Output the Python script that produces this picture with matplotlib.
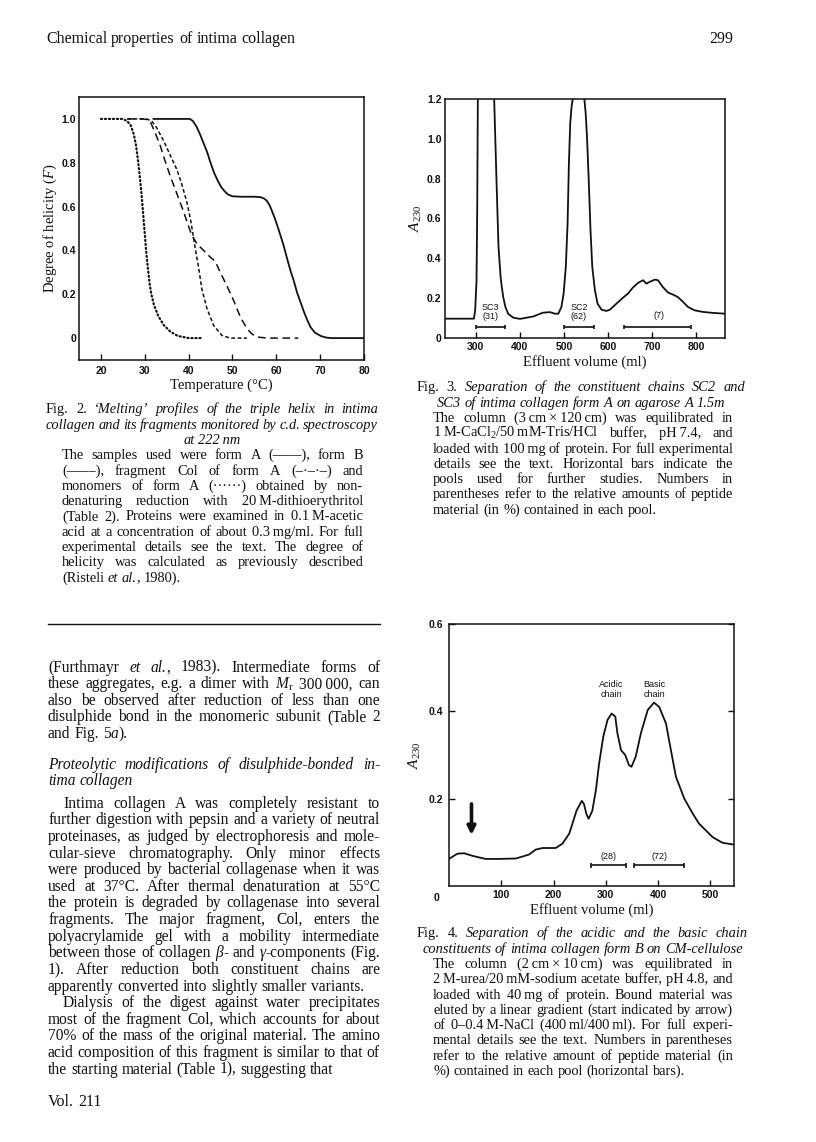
import re
import matplotlib
matplotlib.use('Agg')
import matplotlib.pyplot as plt

plt.rcParams['font.family'] = ['Liberation Serif', 'DejaVu Serif']
plt.rcParams['mathtext.fontset'] = 'custom'
plt.rcParams['mathtext.rm'] = 'Liberation Serif'
plt.rcParams['mathtext.it'] = 'Liberation Serif:italic'
plt.rcParams['mathtext.bf'] = 'Liberation Serif:bold'

# ---------------- data ----------------
# Fig. 2  degree of helicity (F) vs temperature (deg C)
t_formA = [32, 40.3, 41.0, 41.8, 42.6, 43.4, 44.2, 45.0, 45.8, 46.6, 47.4, 48.2, 49.0, 50.0, 52, 55,
           56.4, 57.2, 57.9, 58.5, 59.0, 59.6, 60.2, 61.0, 61.7, 62.5, 63.2, 64.0, 64.7, 65.5, 66.3,
           67.0, 67.8, 68.8, 70.1, 71.2, 72.4, 80]
f_formA = [1.0, 1.0, 0.99, 0.965, 0.93, 0.89, 0.85, 0.80, 0.755, 0.72, 0.69, 0.67, 0.655, 0.647, 0.645, 0.645,
           0.643, 0.637, 0.625, 0.605, 0.58, 0.55, 0.515, 0.465, 0.42, 0.36, 0.31, 0.26, 0.21, 0.165, 0.12,
           0.085, 0.05, 0.025, 0.01, 0.003, 0.0, 0.0]
t_formB = [26, 29.5, 30.5, 31.2, 32.3, 33.5, 34.6, 35.8, 37.3, 38.8, 39.9, 40.7, 41.9, 43.4, 44.9, 46.1,
           47.2, 48.7, 50.3, 51.8, 53.3, 54.5, 55.6, 57.9, 65]
f_formB = [1.0, 1.0, 0.997, 0.99, 0.94, 0.88, 0.81, 0.74, 0.66, 0.58, 0.515, 0.47, 0.43, 0.40, 0.37, 0.35,
           0.30, 0.24, 0.17, 0.096, 0.043, 0.018, 0.005, 0.0, 0.0]
t_col = [26, 30.4, 31.6, 32.7, 34.3, 35.8, 37.3, 38.4, 39.6, 40.4, 40.9, 41.5, 42.3, 43.0, 44.2, 45.7,
         47.6, 49.5, 53.3]
f_col = [1.0, 1.0, 0.99, 0.96, 0.90, 0.835, 0.77, 0.705, 0.62, 0.545, 0.485, 0.41, 0.32, 0.225, 0.134, 0.058,
         0.012, 0.0, 0.0]
t_mono = [20, 25, 26.0, 26.8, 27.5, 28.0, 28.4, 28.8, 29.2, 29.5, 29.9, 30.3, 30.7, 31.1, 31.5, 32.1,
          33.1, 34.3, 35.8, 37.5, 40, 43]
f_mono = [1.0, 1.0, 0.99, 0.97, 0.93, 0.88, 0.82, 0.75, 0.67, 0.60, 0.50, 0.40, 0.32, 0.25, 0.20, 0.15,
          0.10, 0.06, 0.03, 0.01, 0.0, 0.0]

# Fig. 3  A230 vs effluent volume (ml), agarose A 1.5m
v_fig3 = [230, 295.5, 298.5, 301.5, 303, 304.5, 306, 338, 341.5, 346.8, 351.3, 356, 358, 362, 367, 373,
          385, 400, 430, 452, 468, 479, 487, 494, 499, 504, 508, 511, 514, 517, 521, 524, 543, 546, 549,
          552, 556, 560, 564, 570, 576, 585, 596, 604, 619, 634, 645, 656, 668, 679, 687, 694, 706, 713,
          724, 736, 747, 758, 770, 781, 796, 815, 838, 865]
a_fig3 = [0.097, 0.097, 0.14, 0.29, 0.625, 1.2, 1.35, 1.35, 1.2, 0.79, 0.46, 0.31, 0.27, 0.206, 0.156, 0.122,
          0.102, 0.096, 0.108, 0.127, 0.13, 0.122, 0.122, 0.156, 0.223, 0.357, 0.575, 0.876, 1.078, 1.16,
          1.22, 1.25, 1.25, 1.2, 1.13, 1.01, 0.79, 0.54, 0.357, 0.24, 0.172, 0.142, 0.136, 0.142, 0.173,
          0.203, 0.223, 0.253, 0.277, 0.29, 0.273, 0.282, 0.293, 0.29, 0.256, 0.228, 0.218, 0.206, 0.181,
          0.156, 0.139, 0.131, 0.126, 0.122]
pool3_start = [300, 500, 637]
pool3_end = [366, 568, 788]
pool3_name = ['SC3', 'SC2', '']
pool3_pct = ['(31)', '(62)', '(7)']

# Fig. 4  A230 vs effluent volume (ml), CM-cellulose
v_fig4 = [0, 16, 29, 45, 70, 96, 128, 153, 166, 179, 204, 217, 230, 244, 254, 258, 263, 267, 274, 281, 287,
          295, 303, 311, 318, 322, 329, 337, 344, 349, 357, 367, 380, 392, 402, 415, 422, 434, 450, 466,
          478, 504, 523, 544]
a_fig4 = [0.062, 0.074, 0.075, 0.069, 0.062, 0.062, 0.063, 0.072, 0.0835, 0.087, 0.087, 0.097, 0.12, 0.173,
          0.195, 0.188, 0.164, 0.154, 0.172, 0.22, 0.28, 0.342, 0.38, 0.395, 0.388, 0.35, 0.311, 0.30,
          0.277, 0.273, 0.296, 0.35, 0.403, 0.42, 0.41, 0.372, 0.326, 0.25, 0.2, 0.166, 0.143, 0.112,
          0.099, 0.095]
pool4_start = [272, 354]
pool4_end = [338, 450]
pool4_pct = ['(28)', '(72)']
peak4_pos = [311, 392]
peak4_name = ['Acidic\nchain', 'Basic\nchain']
gradient_start = 43

# ---------------- page text ----------------
header = 'Chemical properties of intima collagen'
page_no = '299'
footer = 'Vol. 211'

cap2_title = ['*Fig.* *2.* \u2018Melting\u2019 profiles of the triple helix in intima',
              'collagen and its fragments monitored by c.d. spectroscopy',
              'at 222\u2009nm']
cap2_body = ['The samples used were form A (\u2014\u2014), form B',
             '(\u2013\u2013\u2013\u2013), fragment Col of form A (\u2013\u00b7\u2013\u00b7\u2013) and',
             'monomers of form A (\u00b7\u00b7\u00b7\u00b7\u00b7\u00b7) obtained by non-',
             'denaturing reduction with 20\u2009M-dithioerythritol',
             '(Table 2). Proteins were examined in 0.1\u2009M-acetic',
             'acid at a concentration of about 0.3\u2009mg/ml. For full',
             'experimental details see the text. The degree of',
             'helicity was calculated as previously described',
             '(Risteli *et* *al.*, 1980).']

cap3_title = ['*Fig.* *3.* Separation of the constituent chains SC2 and',
              'SC3 of intima collagen form A on agarose A 1.5m']
cap3_body = ['The column (3\u2009cm\u2009\u00d7\u2009120\u2009cm) was equilibrated in',
             '1\u2009M-CaCl$_2$/50\u2009mM-Tris/HCl buffer, pH\u20097.4, and',
             'loaded with 100\u2009mg of protein. For full experimental',
             'details see the text. Horizontal bars indicate the',
             'pools used for further studies. Numbers in',
             'parentheses refer to the relative amounts of peptide',
             'material (in %) contained in each pool.']

cap4_title = ['*Fig.* *4.* Separation of the acidic and the basic chain',
              'constituents of intima collagen form B on CM-cellulose']
cap4_body = ['The column (2\u2009cm\u2009\u00d7\u200910\u2009cm) was equilibrated in',
             '2\u2009M-urea/20\u2009mM-sodium acetate buffer, pH\u20094.8, and',
             'loaded with 40\u2009mg of protein. Bound material was',
             'eluted by a linear gradient (start indicated by arrow)',
             'of 0\u20130.4\u2009M-NaCl (400\u2009ml/400\u2009ml). For full experi-',
             'mental details see the text. Numbers in parentheses',
             'refer to the relative amount of peptide material (in',
             '%) contained in each pool (horizontal bars).']

body_p1 = ['(Furthmayr *et* *al.*, 1983). Intermediate forms of',
           'these aggregates, e.g. a dimer with $M_\\mathrm{r}$ 300\u2009000, can',
           'also be observed after reduction of less than one',
           'disulphide bond in the monomeric subunit (Table 2',
           'and Fig. 5*a*).']
body_head = ['Proteolytic modifications of disulphide-bonded in-',
             'tima collagen']
body_p2 = ['Intima collagen A was completely resistant to',
           'further digestion with pepsin and a variety of neutral',
           'proteinases, as judged by electrophoresis and mole-',
           'cular-sieve chromatography. Only minor effects',
           'were produced by bacterial collagenase when it was',
           'used at 37\u00b0C. After thermal denaturation at 55\u00b0C',
           'the protein is degraded by collagenase into several',
           'fragments. The major fragment, Col, enters the',
           'polyacrylamide gel with a mobility intermediate',
           'between those of collagen *\u03b2*- and *\u03b3*-components (Fig.',
           '1). After reduction both constituent chains are',
           'apparently converted into slightly smaller variants.']
body_p3 = ['Dialysis of the digest against water precipitates',
           'most of the fragment Col, which accounts for about',
           '70% of the mass of the original material. The amino',
           'acid composition of this fragment is similar to that of',
           'the starting material (Table 1), suggesting that']

# ---------------- figure ----------------
W, H = 816, 1142
fig = plt.figure(figsize=(W / 100, H / 100), dpi=100)
fig.patch.set_facecolor('white')
renderer = fig.canvas.get_renderer()
INK = '#111111'


def measure(s, italic, size):
    t = fig.text(0, 0, s, fontsize=size, style='italic' if italic else 'normal')
    w = t.get_window_extent(renderer).width
    t.remove()
    return w


def pieces(word, italic):
    out = []
    for p in re.split(r'(\*[^*]+\*)', word):
        if not p:
            continue
        if p.startswith('*') and p.endswith('*') and len(p) > 2:
            out.append((p[1:-1], not italic))
        else:
            out.append((p, italic))
    return out


def put_line(line, x0, x1, y, size, italic=False, mode='justify'):
    words = line.split(' ')
    items = []
    for w in words:
        items.append([(s, it, measure(s, it, size)) for s, it in pieces(w, italic)])
    widths = [sum(p[2] for p in ps) for ps in items]
    space = measure('n n', False, size) - measure('nn', False, size)
    if mode == 'justify' and len(words) > 1:
        gap = (x1 - x0 - sum(widths)) / (len(words) - 1)
        x = x0
    else:
        gap = space
        lw = sum(widths) + gap * (len(words) - 1)
        x = {'left': x0, 'center': (x0 + x1 - lw) / 2, 'right': x1 - lw}[mode]
    yb = y + 0.3 * size * 100 / 72
    for ps, w in zip(items, widths):
        xx = x
        for s, it, pw in ps:
            fig.text(xx / W, 1 - yb / H, s, fontsize=size, color=INK,
                     style='italic' if it else 'normal', ha='left', va='baseline')
            xx += pw
        x += w + gap


def put_block(lines, x0, x1, y0, dy, size, italic=False, modes=None, indent=0):
    for i, line in enumerate(lines):
        mode = modes[i] if modes else ('left' if i == len(lines) - 1 else 'justify')
        xs = x0 + (indent if i == 0 else 0)
        put_line(line, xs, x1, y0 + i * dy, size, italic, mode)


def px_axes(l, t, r, b):
    return fig.add_axes([l / W, 1 - b / H, (r - l) / W, (b - t) / H])


def style_axes(ax):
    for sp in ax.spines.values():
        sp.set_linewidth(1.1)
        sp.set_color(INK)
    ax.tick_params(direction='in', length=4, width=1, colors=INK)


tick_font = dict(fontfamily='Liberation Sans', fontweight='bold', fontsize=7.5, color=INK)
small_font = dict(fontfamily='Liberation Sans', fontsize=6.5, color=INK)
LAB = 10.5

# Fig. 2
ax2 = px_axes(79, 97, 364, 360)
style_axes(ax2)
ax2.plot(t_formA, f_formA, color=INK, lw=1.3)
ax2.plot(t_formB, f_formB, color=INK, lw=1.1, ls=(0, (5, 3)))
ax2.plot(t_col, f_col, color=INK, lw=1.1, ls=(0, (2.5, 1.6)))
ax2.plot(t_mono, f_mono, color=INK, lw=1.6, ls=(0, (0.5, 1.3)), dash_capstyle='round')
ax2.set_xlim(15, 80)
ax2.set_ylim(-0.1, 1.1)
ax2.set_xticks([20, 30, 40, 50, 60, 70, 80], ['20', '30', '40', '50', '60', '70', '80'], **tick_font)
ax2.set_yticks([0, 0.2, 0.4, 0.6, 0.8, 1.0], ['0', '0.2', '0.4', '0.6', '0.8', '1.0'], **tick_font)
ax2.tick_params(axis='x', pad=4)
ax2.tick_params(axis='y', pad=2, length=0)
ax2.set_xlabel('Temperature (\u00b0C)', fontsize=LAB, labelpad=2, color=INK)
ax2.set_ylabel('Degree of helicity ($F$)', fontsize=LAB, labelpad=2, color=INK)

# Fig. 3
ax3 = px_axes(445, 99, 725, 338)
style_axes(ax3)
ax3.plot(v_fig3, a_fig3, color=INK, lw=1.3)
for x0, x1, nm, pc in zip(pool3_start, pool3_end, pool3_name, pool3_pct):
    ax3.hlines(0.055, x0, x1, color=INK, lw=1.2)
    ax3.vlines([x0, x1], 0.043, 0.067, color=INK, lw=1.2)
    xm = (x0 + x1) / 2
    if nm:
        ax3.text(xm, 0.155, nm, ha='center', va='center', **small_font)
        ax3.text(xm, 0.106, pc, ha='center', va='center', **small_font)
    else:
        ax3.text(xm + 3, 0.112, pc, ha='center', va='center', **small_font)
ax3.set_xlim(230, 865)
ax3.set_ylim(0, 1.2)
ax3.set_xticks([300, 400, 500, 600, 700, 800], ['300', '400', '500', '600', '700', '800'], **tick_font)
ax3.set_yticks([0, 0.2, 0.4, 0.6, 0.8, 1.0, 1.2], ['0', '0.2', '0.4', '0.6', '0.8', '1.0', '1.2'], **tick_font)
ax3.tick_params(axis='x', pad=3)
ax3.tick_params(axis='y', pad=2.5, length=0)
ax3.set_xlabel('Effluent volume (ml)', fontsize=LAB, labelpad=2, color=INK)
ax3.set_ylabel('$A_{230}$', fontsize=11, labelpad=2, color=INK)

# Fig. 4
ax4 = px_axes(449, 624, 734, 886)
style_axes(ax4)
ax4.plot(v_fig4, a_fig4, color=INK, lw=1.3)
for x0, x1, pc in zip(pool4_start, pool4_end, pool4_pct):
    ax4.hlines(0.047, x0, x1, color=INK, lw=1.2)
    ax4.vlines([x0, x1], 0.041, 0.053, color=INK, lw=1.2)
    ax4.text((x0 + x1) / 2, 0.068, pc, ha='center', va='center', **small_font)
for xp, nm in zip(peak4_pos, peak4_name):
    ax4.text(xp, 0.45, nm, ha='center', va='center', linespacing=1.1, **small_font)
ax4.annotate('', xy=(gradient_start, 0.117), xytext=(gradient_start, 0.188),
             arrowprops=dict(arrowstyle='-|>', lw=2.6, color=INK, mutation_scale=12,
                             shrinkA=0, shrinkB=0))
ax4.set_xlim(0, 545)
ax4.set_ylim(0, 0.6)
ax4.set_xticks([100, 200, 300, 400, 500], ['100', '200', '300', '400', '500'], **tick_font)
ax4.set_yticks([0.2, 0.4, 0.6], ['0.2', '0.4', '0.6'], **tick_font)
ax4.tick_params(axis='x', pad=3)
ax4.tick_params(axis='y', pad=4, right=True)
ax4.text(-0.035, -0.025, '0', transform=ax4.transAxes, ha='right', va='top', **tick_font)
ax4.set_xlabel('Effluent volume (ml)', fontsize=LAB, labelpad=2, color=INK)
ax4.set_ylabel('$A_{230}$', fontsize=11, labelpad=4, color=INK)

# page furniture
put_line(header, 46, 400, 38, 11.5, mode='left')
put_line(page_no, 400, 733, 38, 11.5, mode='right')
put_line(footer, 48, 400, 1101, 11.5, mode='left')

CAP = 10.4
BODY = 11.2
put_block(cap2_title, 46, 378, 409, 15.3, CAP, italic=True, modes=['justify', 'justify', 'center'])
put_block(cap2_body, 62, 363, 409 + 3 * 15.3, 15.3, CAP)
put_block(cap3_title, 417, 745, 387, 15.3, CAP, italic=True, modes=['justify', 'center'])
put_block(cap3_body, 433, 733, 387 + 2 * 15.3, 15.3, CAP)
put_block(cap4_title, 417, 748, 933, 15.3, CAP, italic=True, modes=['justify', 'center'])
put_block(cap4_body, 433, 733, 933 + 2 * 15.3, 15.3, CAP)

fig.add_artist(plt.Line2D([48 / W, 380 / W], [1 - 624 / H, 1 - 624 / H], color=INK, lw=1.0))

put_block(body_p1, 48, 380, 667, 16.6, BODY)
put_block(body_head, 48, 380, 764, 16.6, BODY, italic=True)
put_block(body_p2, 48, 380, 803, 16.63, BODY, indent=15)
put_block(body_p3, 48, 380, 803 + 12 * 16.63, 16.63, BODY, indent=15)

fig.savefig('out.png', dpi=100)
